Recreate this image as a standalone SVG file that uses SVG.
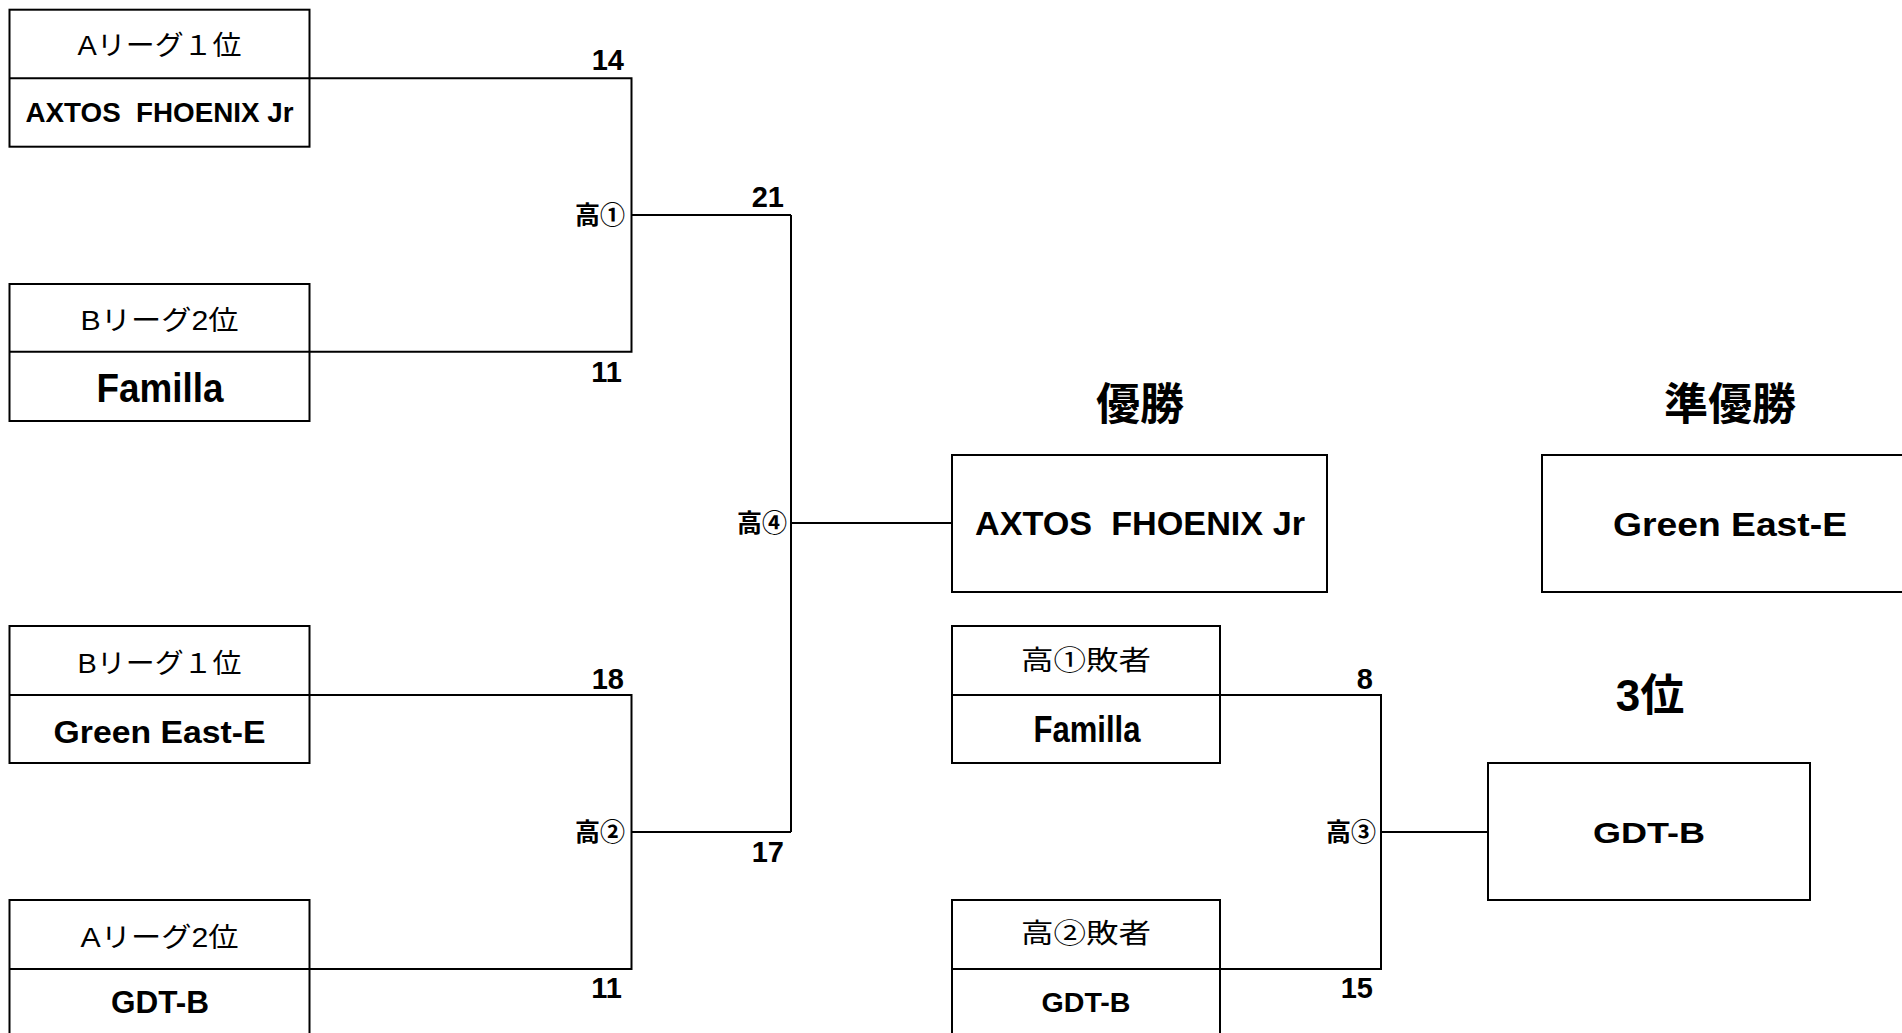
<svg xmlns="http://www.w3.org/2000/svg" width="1902" height="1033" viewBox="0 0 1902 1033">
<style>
  .bx { fill: #fff; stroke: #000; stroke-width: 2; }
  .dv { stroke: #000; stroke-width: 2; }
  .cn { fill: none; stroke: #000; stroke-width: 2; }
  text { font-family: "Liberation Sans", "Noto Sans CJK JP", sans-serif; fill: #000; }
  .lbl { font-size: 27px; text-anchor: middle; }
  .team { font-weight: bold; text-anchor: middle; }
  .sc { font-size: 29px; font-weight: bold; text-anchor: end; }
  .jn { font-size: 25px; font-weight: bold; text-anchor: end; }
  .ttl { font-size: 44px; font-weight: bold; text-anchor: middle; }
</style>
<rect width="1902" height="1033" fill="#fff"/>

<g id="connectors">
  <path class="cn" d="M309.5 78.3 H631.5 V351.7 H309.5"/>
  <path class="cn" d="M631.5 215 H791"/>
  <path class="cn" d="M309.5 695 H631.5 V969 H309.5"/>
  <path class="cn" d="M631.5 832 H791"/>
  <path class="cn" d="M791 215 V832"/>
  <path class="cn" d="M791 523 H952"/>
  <path class="cn" d="M1220 695 H1381 V969 H1220"/>
  <path class="cn" d="M1381 832 H1488"/>
</g>

<g id="node-a1">
  <rect class="bx" x="9.5" y="9.7" width="300" height="137"/>
  <line class="dv" x1="9.5" y1="78.3" x2="309.5" y2="78.3"/>
  <text class="lbl" x="159.5" y="55" textLength="164" lengthAdjust="spacingAndGlyphs">Aリーグ１位</text>
  <text class="team" x="159.5" y="122" font-size="28" textLength="268" lengthAdjust="spacingAndGlyphs">AXTOS&#160; FHOENIX Jr</text>
</g>

<g id="node-b2">
  <rect class="bx" x="9.5" y="284" width="300" height="137"/>
  <line class="dv" x1="9.5" y1="351.7" x2="309.5" y2="351.7"/>
  <text class="lbl" x="159.5" y="330" textLength="158" lengthAdjust="spacingAndGlyphs">Bリーグ2位</text>
  <text class="team" x="160" y="402" font-size="40" textLength="127" lengthAdjust="spacingAndGlyphs">Familla</text>
</g>

<g id="node-b1">
  <rect class="bx" x="9.5" y="626" width="300" height="137"/>
  <line class="dv" x1="9.5" y1="695" x2="309.5" y2="695"/>
  <text class="lbl" x="159.5" y="673" textLength="164" lengthAdjust="spacingAndGlyphs">Bリーグ１位</text>
  <text class="team" x="159.5" y="743" font-size="32" textLength="212" lengthAdjust="spacingAndGlyphs">Green East-E</text>
</g>

<g id="node-a2">
  <rect class="bx" x="9.5" y="900" width="300" height="145"/>
  <line class="dv" x1="9.5" y1="969" x2="309.5" y2="969"/>
  <text class="lbl" x="159.5" y="947" textLength="158" lengthAdjust="spacingAndGlyphs">Aリーグ2位</text>
  <text class="team" x="160" y="1013" font-size="31" textLength="98" lengthAdjust="spacingAndGlyphs">GDT-B</text>
</g>

<g id="node-loser1">
  <rect class="bx" x="952" y="626" width="268" height="137"/>
  <line class="dv" x1="952" y1="695" x2="1220" y2="695"/>
  <text class="lbl" x="1086" y="670" font-size="29" textLength="130" lengthAdjust="spacingAndGlyphs">高①敗者</text>
  <text class="team" x="1087" y="742" font-size="36" textLength="107" lengthAdjust="spacingAndGlyphs">Familla</text>
</g>

<g id="node-loser2">
  <rect class="bx" x="952" y="900" width="268" height="145"/>
  <line class="dv" x1="952" y1="969" x2="1220" y2="969"/>
  <text class="lbl" x="1086" y="943" font-size="29" textLength="130" lengthAdjust="spacingAndGlyphs">高②敗者</text>
  <text class="team" x="1086" y="1012" font-size="27" textLength="89" lengthAdjust="spacingAndGlyphs">GDT-B</text>
</g>

<g id="node-champion">
  <text class="ttl" x="1140" y="420">優勝</text>
  <rect class="bx" x="952" y="455" width="375" height="137"/>
  <text class="team" x="1140" y="535" font-size="34" textLength="330" lengthAdjust="spacingAndGlyphs">AXTOS&#160; FHOENIX Jr</text>
</g>

<g id="node-runnerup">
  <text class="ttl" x="1730" y="420">準優勝</text>
  <rect class="bx" x="1542" y="455" width="380" height="137"/>
  <text class="team" x="1730" y="536" font-size="33" textLength="234" lengthAdjust="spacingAndGlyphs">Green East-E</text>
</g>

<g id="node-third">
  <text class="ttl" x="1650" y="711" font-size="42">3位</text>
  <rect class="bx" x="1488" y="763" width="322" height="137"/>
  <text class="team" x="1649" y="843" font-size="30" textLength="112" lengthAdjust="spacingAndGlyphs">GDT-B</text>
</g>

<g id="labels">
  <text class="sc" x="624" y="70">14</text>
  <text class="sc" x="622" y="382">11</text>
  <text class="sc" x="624" y="689">18</text>
  <text class="sc" x="622" y="998">11</text>
  <text class="sc" x="784" y="207">21</text>
  <text class="sc" x="784" y="862">17</text>
  <text class="sc" x="1373" y="689">8</text>
  <text class="sc" x="1373" y="998">15</text>
  <text class="jn" x="625" y="224">高①</text>
  <text class="jn" x="625" y="841">高②</text>
  <text class="jn" x="787" y="532">高④</text>
  <text class="jn" x="1376" y="841">高③</text>
</g>
</svg>
